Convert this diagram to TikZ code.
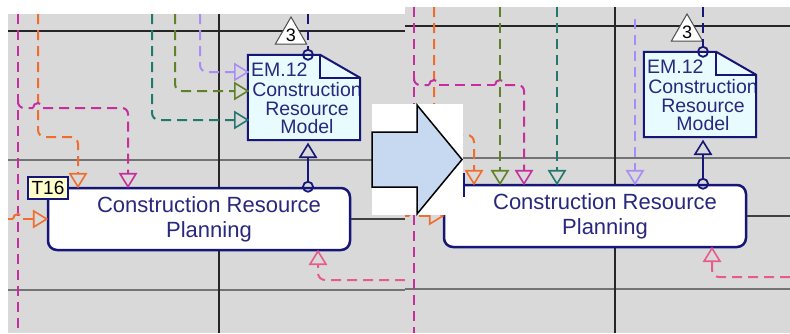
\documentclass[tikz,border=0pt]{standalone}
\usepackage{fontspec}
\setmainfont{Liberation Sans}
\usetikzlibrary{calc,shapes.geometric}
\definecolor{bgG}{RGB}{217,217,217}
\definecolor{navyB}{RGB}{22,22,120}
\definecolor{navyT}{RGB}{40,40,125}
\definecolor{magC}{RGB}{200,45,160}
\definecolor{orC}{RGB}{240,110,45}
\definecolor{olC}{RGB}{95,130,40}
\definecolor{tlC}{RGB}{35,120,110}
\definecolor{lvC}{RGB}{170,140,245}
\definecolor{pkC}{RGB}{232,90,140}
\definecolor{docC}{RGB}{232,252,255}
\definecolor{tagC}{RGB}{255,255,204}
\definecolor{arrC}{RGB}{198,217,240}
\newcommand\tipD[2]{\draw[#1, tipline] ([xshift=-8pt,yshift=13pt]#2) -- (#2) -- ([xshift=8pt,yshift=13pt]#2) -- cycle;}
\newcommand\tipU[2]{\draw[#1, tipline] ([xshift=-8pt,yshift=-13pt]#2) -- (#2) -- ([xshift=8pt,yshift=-13pt]#2) -- cycle;}
\newcommand\tipR[2]{\draw[#1, tipline] ([xshift=-13pt,yshift=8pt]#2) -- (#2) -- ([xshift=-13pt,yshift=-8pt]#2) -- cycle;}
\begin{document}
\begin{tikzpicture}[x=1pt,y=-1pt,
  conn/.style={line width=2pt, dash pattern=on 10pt off 6pt, shorten >=13pt},
  hop/.style={line width=2pt, dash pattern=on 10pt off 6pt},
  tipline/.style={line width=1.6pt, line join=miter, solid},
  gridk/.style={line width=2.2pt, black!85},
  gridg/.style={line width=1.6pt, black!55},
  gridd/.style={line width=1.8pt, black!75},
  procbox/.style={draw=navyB, fill=white, line width=2.5pt, rounded corners=9pt, minimum width=302pt, minimum height=62pt, inner sep=0pt},
  proctext/.style={text=navyT, font=\fontsize{22}{25}\selectfont, align=center, inner sep=0pt},
  tagbox/.style={draw=navyB, fill=tagC, line width=1.5pt, minimum width=40pt, minimum height=22pt, inner sep=0pt, font=\fontsize{19}{19}\selectfont},
  docarea/.style={minimum width=112pt, minimum height=85pt, inner sep=0pt},
  doctext/.style={text=navyT, font=\fontsize{19.5}{18.5}\selectfont, align=center, inner sep=0pt},
  port/.style={circle, draw=navyB, line width=1.8pt, minimum size=10pt, inner sep=0pt},
  navyline/.style={draw=navyB, line width=2pt},
  tri3/.style={regular polygon, regular polygon sides=3, draw=black!70, fill=white, line width=1pt, minimum size=32pt, inner sep=0pt, font=\fontsize{18}{18}\selectfont},
]
\useasboundingbox (0,0) rectangle (790,333);
\fill[white] (0,0) rectangle (790,333);

% ================= LEFT PANEL =================
\fill[bgG] (8,14) rectangle (405,333);
\draw[gridk] (8,31) -- (405,31);
\draw[gridg] (8,160) -- (405,160);
\draw[gridg] (8,290) -- (405,290);
\draw[gridk] (219,14) -- (219,333);

\node[procbox] (Lbox) at (199,219) {};
\node[proctext] (Lboxt) at (209,219.5) {Construction Resource\\Planning};
\draw[gridd] (Lbox.east) -- (405,219);

\node[docarea] (Ldoc) at (304,97.5) {};
\fill[docC] (Ldoc.north west) -- ([xshift=-40pt]Ldoc.north east) -- ([yshift=-23pt]Ldoc.north east) -- (Ldoc.south east) -- (Ldoc.south west) -- cycle;
\begin{scope}
\clip (Ldoc.north west) -- ([xshift=-40pt]Ldoc.north east) -- ([yshift=-23pt]Ldoc.north east) -- (Ldoc.south east) -- (Ldoc.south west) -- cycle;
\node[doctext, anchor=west] (Lem) at (251,70) {EM.12};
\node[doctext] (Ldt) at (307,108.5) {Construction\\Resource\\Model};
\end{scope}
\draw[navyline, line join=miter] (Ldoc.north west) -- ([xshift=-40pt]Ldoc.north east) -- ([yshift=-23pt]Ldoc.north east) -- (Ldoc.south east) -- (Ldoc.south west) -- cycle;
\draw[navyline] ([xshift=-40pt]Ldoc.north east) |- ([yshift=-23pt]Ldoc.north east);

\node[tri3] (L3) at (291,35) {3};

% arrow-tip points
\coordinate (LaOr) at (78,0 |- Lbox.north);
\coordinate (LaMg) at (128,0 |- Lbox.north);
\coordinate (LaOl) at (Lbox.west);
\coordinate (LaTl) at (Ldoc.west |- 0,120);
\coordinate (LaOv) at (Ldoc.west |- 0,91);
\coordinate (LaLv) at (Ldoc.west |- 0,72);
\coordinate (LaPk) at (318,0 |- Lbox.south);
\coordinate (LdS) at (308,0 |- Ldoc.south);
\coordinate (LaNv) at ([yshift=-4pt]LdS);

% connectors
\coordinate (Lmag) at (18,14);
\coordinate (Lmagb) at (18,333);
\draw[hop, magC] (Lmag) -- (Lmagb);

\coordinate (Lor) at (38,14);
\draw[conn, orC, rounded corners=7pt] (Lor) -- (38,137) -- (78,137) -- (LaOr);
\tipD{orC}{LaOr}

\draw[hop, magC, rounded corners=6pt] (18,100) -- (18,108) -- (33,108);
\draw[hop, magC] (33,108) arc[start angle=180, end angle=0, radius=5pt];
\draw[conn, magC, rounded corners=6pt] (43,108) -- (128,108) -- (LaMg);
\tipD{magC}{LaMg}

\coordinate (Lorl) at (8,219);
\draw[hop, orC] (Lorl) -- (13,219);
\draw[hop, orC] (13,219) arc[start angle=180, end angle=0, radius=5pt];
\draw[conn, orC] (23,219) -- (LaOl);
\tipR{orC}{LaOl}

\coordinate (Ltl) at (152,14);
\draw[conn, tlC, rounded corners=7pt] (Ltl) -- (152,120) -- (LaTl);
\tipR{tlC}{LaTl}
\coordinate (Lol) at (175,14);
\draw[conn, olC, rounded corners=7pt] (Lol) -- (175,91) -- (LaOv);
\tipR{olC}{LaOv}
\coordinate (Llv) at (200,14);
\draw[conn, lvC, rounded corners=7pt] (Llv) -- (200,72) -- (LaLv);
\tipR{lvC}{LaLv}

\coordinate (Lpk) at (405,280);
\draw[conn, pkC, rounded corners=7pt] (Lpk) -| (LaPk);
\tipU{pkC}{LaPk}

\node[port] (Lc1) at (308,0 |- Ldoc.north) {};
\node[port] (Lc2) at (308,0 |- Lbox.north) {};
\coordinate (Lnv) at (308,14);
\draw[navyline, dash pattern=on 10pt off 6pt] (Lnv) -- (Lc1);
\draw[navyline, shorten >=13pt] (Lc2) -- (LaNv);
\tipU{navyB}{LaNv}

\node[tagbox] (Ltag) at (48,188) {T16};

% ================= RIGHT PANEL =================
\fill[bgG] (405,7) rectangle (790,333);
\draw[gridk] (405,26) -- (790,26);
\draw[gridg] (405,158) -- (790,158);
\draw[gridg] (405,289) -- (790,289);
\draw[gridk] (615,7) -- (615,333);

\node[procbox] (Rbox) at (595,216) {};
\node[proctext] (Rboxt) at (605,216.5) {Construction Resource\\Planning};
\draw[gridd] (Rbox.east) -- (790,216);

\node[docarea] (Rdoc) at (700,94.5) {};
\fill[docC] (Rdoc.north west) -- ([xshift=-40pt]Rdoc.north east) -- ([yshift=-23pt]Rdoc.north east) -- (Rdoc.south east) -- (Rdoc.south west) -- cycle;
\begin{scope}
\clip (Rdoc.north west) -- ([xshift=-40pt]Rdoc.north east) -- ([yshift=-23pt]Rdoc.north east) -- (Rdoc.south east) -- (Rdoc.south west) -- cycle;
\node[doctext, anchor=west] (Rem) at (647,67) {EM.12};
\node[doctext] (Rdt) at (703,105.5) {Construction\\Resource\\Model};
\end{scope}
\draw[navyline, line join=miter] (Rdoc.north west) -- ([xshift=-40pt]Rdoc.north east) -- ([yshift=-23pt]Rdoc.north east) -- (Rdoc.south east) -- (Rdoc.south west) -- cycle;
\draw[navyline] ([xshift=-40pt]Rdoc.north east) |- ([yshift=-23pt]Rdoc.north east);

\node[tri3] (R3) at (687,32) {3};

\coordinate (RaOr) at (474,0 |- Rbox.north);
\coordinate (RaOv) at (500,0 |- Rbox.north);
\coordinate (RaMg) at (524,0 |- Rbox.north);
\coordinate (RaTl) at (557,0 |- Rbox.north);
\coordinate (RaLv) at (635,0 |- Rbox.north);
\coordinate (RaOl) at (Rbox.west);
\coordinate (RaPk) at (712,0 |- Rbox.south);
\coordinate (RdS) at (703,0 |- Rdoc.south);
\coordinate (RaNv) at ([yshift=-4pt]RdS);

\coordinate (Rmag) at (414,7);
\coordinate (Rmagb) at (414,333);
\draw[hop, magC] (Rmag) -- (Rmagb);

\coordinate (Ror) at (434,7);
\draw[conn, orC, rounded corners=7pt] (Ror) -- (434,135) -- (474,135) -- (RaOr);
\tipD{orC}{RaOr}

\draw[hop, magC, rounded corners=6pt] (414,77) -- (414,85) -- (429,85);
\draw[hop, magC] (429,85) arc[start angle=180, end angle=0, radius=5pt];
\draw[hop, magC] (439,85) -- (495,85);
\draw[hop, magC] (495,85) arc[start angle=180, end angle=0, radius=5pt];
\draw[conn, magC, rounded corners=6pt] (505,85) -- (524,85) -- (RaMg);
\tipD{magC}{RaMg}

\coordinate (Rorl) at (405,216);
\draw[hop, orC] (Rorl) -- (409,216);
\draw[hop, orC] (409,216) arc[start angle=180, end angle=0, radius=5pt];
\draw[conn, orC] (419,216) -- (RaOl);
\tipR{orC}{RaOl}

\coordinate (Rol) at (500,7);
\draw[conn, olC] (Rol) -- (RaOv);
\tipD{olC}{RaOv}
\coordinate (Rtl) at (557,7);
\draw[conn, tlC] (Rtl) -- (RaTl);
\tipD{tlC}{RaTl}
\coordinate (Rlv) at (635,19);
\draw[conn, lvC] (Rlv) -- (RaLv);
\tipD{lvC}{RaLv}

\coordinate (Rpk) at (790,277);
\draw[conn, pkC, rounded corners=7pt] (Rpk) -| (RaPk);
\tipU{pkC}{RaPk}

\node[port] (Rc1) at (703,0 |- Rdoc.north) {};
\node[port] (Rc2) at (703,0 |- Rbox.north) {};
\coordinate (Rnv) at (703,7);
\draw[navyline, dash pattern=on 10pt off 6pt] (Rnv) -- (Rc1);
\draw[navyline, shorten >=13pt] (Rc2) -- (RaNv);
\tipU{navyB}{RaNv}

\node[tagbox] (Rtag) at (444,185) {T16};

% ================= TRANSITION ARROW =================
\fill[white] (372,104) rectangle (463,215);
\filldraw[fill=arrC, draw=black, line width=1.5pt, line join=miter] (372,132) -- (417,132) -- (417,105) -- (462,159.5) -- (417,214) -- (417,187) -- (372,187) -- cycle;
\end{tikzpicture}
\end{document}
